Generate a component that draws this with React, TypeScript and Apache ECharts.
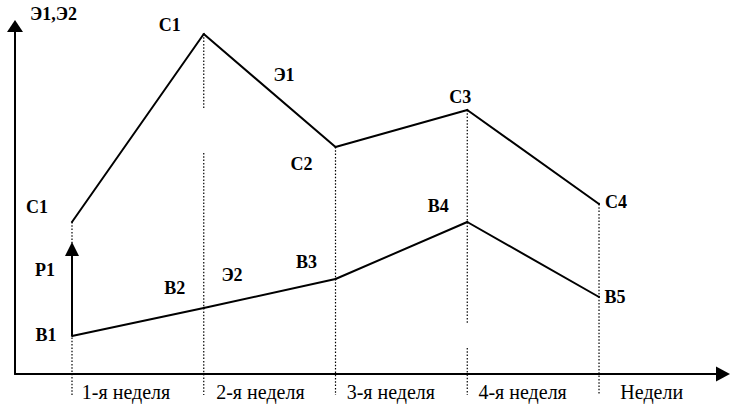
import React, { useEffect, useRef } from "react";
import * as echarts from "echarts";

// ---- data ----
const weekPoints = [0, 1, 2, 3, 4];
const e1Values = [152, 340, 227, 264, 170];
const e2Values = [38, 66, 95, 152, 77];
const e1Labels = ["С1", "С1", "С2", "С3", "С4"];
const e2Labels = ["В1", "В2", "В3", "В4", "В5"];
const weekLabels = ["1-я неделя", "2-я неделя", "3-я неделя", "4-я неделя", "Недели"];
const weekLabelPositions = [0.41, 1.43, 2.42, 3.42, 4.4];
const p1Arrow = [38, 125];
const guideBottom = -21;
// dropped segments of the dotted guides (scan gaps): [week index, from, to]
const guideGaps: [number, number, number][] = [
  [1, 265, 221],
  [3, 51, 26],
];

// ---- label placement (offsets from points) ----
const e1LabelOffsets = [
  [-35, -15],
  [-34, -9],
  [-34, 17],
  [-7, -13],
  [17, -2],
];
const e2LabelOffsets = [
  [-26, -1],
  [-29, -20],
  [-29, -17],
  [-29, -16],
  [16, 0],
];

const SERIF = '"Liberation Serif", "Times New Roman", serif';
const BOLD_SIZE = 18;
const BOLD_LABEL = { fontFamily: SERIF, fontWeight: "bold" as const, fontSize: BOLD_SIZE, color: "#000" };
const BOLD_FONT = `bold ${BOLD_SIZE}px ${SERIF}`;

function guideSeries() {
  const out: any[] = [];
  weekPoints.forEach((x, i) => {
    const top = e1Values[i];
    const gaps = guideGaps.filter((g) => g[0] === i).sort((a, b) => b[1] - a[1]);
    let cur = top;
    const segs: [number, number][] = [];
    gaps.forEach((g) => {
      segs.push([cur, g[1]]);
      cur = g[2];
    });
    segs.push([cur, guideBottom]);
    segs.forEach((s) => {
      out.push({
        type: "line",
        data: [
          [x, s[0]],
          [x, s[1]],
        ],
        showSymbol: false,
        symbol: "none",
        clip: false,
        silent: true,
        z: 1,
        lineStyle: { color: "#000", width: 1.2, type: [1.5, 1.8] },
      });
    });
  });
  return out;
}

function mainSeries(name: string, values: number[], labels: string[], offsets: number[][], extra: any = {}) {
  return {
    type: "line",
    name,
    data: weekPoints.map((x, i) => ({
      value: [x, values[i]],
      label: { offset: offsets[i] },
    })),
    symbol: "circle",
    symbolSize: 2,
    showSymbol: true,
    itemStyle: { color: "#000" },
    lineStyle: { color: "#000", width: 2 },
    clip: false,
    silent: true,
    z: 3,
    label: {
      show: true,
      position: "inside",
      align: "center",
      verticalAlign: "middle",
      formatter: (p: any) => labels[p.dataIndex],
      ...BOLD_LABEL,
    },
    ...extra,
  };
}

function freeText(text: string, x: number, y: number) {
  return {
    type: "text",
    x,
    y,
    silent: true,
    style: { text, font: BOLD_FONT, fill: "#000", align: "center", verticalAlign: "middle", textAlign: "center", textVerticalAlign: "middle" },
  };
}

export default function App() {
  const ref = useRef<HTMLDivElement>(null);
  useEffect(() => {
    if (!ref.current) return;
    const chart = echarts.init(ref.current, null, { renderer: "svg" });
    const option: any = {
      animation: false,
      backgroundColor: "#fff",
      grid: { left: 15, right: 18, top: 26, bottom: 40, containLabel: false, outerBoundsMode: "none" },
      xAxis: {
        type: "value",
        min: -0.4326,
        max: 4.941,
        splitLine: { show: false },
        axisTick: { show: false },
        axisLine: {
          show: true,
          onZero: false,
          symbol: ["none", "triangle"],
          symbolSize: [15, 14],
          lineStyle: { color: "#000", width: 2 },
        },
        axisLabel: {
          show: true,
          customValues: weekLabelPositions,
          margin: 8,
          fontFamily: SERIF,
          fontSize: 20,
          color: "#000",
          formatter: (v: number) => {
            const idx = weekLabelPositions.findIndex((p) => Math.abs(p - v) < 1e-6);
            return idx >= 0 ? weekLabels[idx] : "";
          },
        },
      },
      yAxis: {
        type: "value",
        min: 0,
        max: 348,
        name: "Э1,Э2",
        nameLocation: "end",
        nameGap: 3,
        nameTextStyle: { ...BOLD_LABEL, align: "left", padding: [0, 0, 0, 15] },
        splitLine: { show: false },
        axisTick: { show: false },
        axisLabel: { show: false },
        axisLine: {
          show: true,
          onZero: false,
          symbol: ["none", "triangle"],
          symbolSize: [16, 12],
          lineStyle: { color: "#000", width: 2 },
        },
      },
      graphic: [freeText("Э1", 284, 75), freeText("Э2", 232, 275), freeText("Р1", 45, 270)],
      series: [
        ...guideSeries(),
        mainSeries("Э1", e1Values, e1Labels, e1LabelOffsets),
        mainSeries("Э2", e2Values, e2Labels, e2LabelOffsets, {
          markLine: {
            silent: true,
            symbol: ["none", "triangle"],
            symbolSize: [14, 14],
            label: { show: false },
            lineStyle: { color: "#000", width: 2, type: "solid" },
            emphasis: { disabled: true },
            data: [[{ coord: [weekPoints[0], p1Arrow[0]] }, { coord: [weekPoints[0], p1Arrow[1]] }]],
          },
        }),
      ],
    };
    chart.setOption(option);
    return () => chart.dispose();
  }, []);
  return <div ref={ref} style={{ position: "fixed", left: 0, top: 0, width: 741, height: 414 }} />;
}
